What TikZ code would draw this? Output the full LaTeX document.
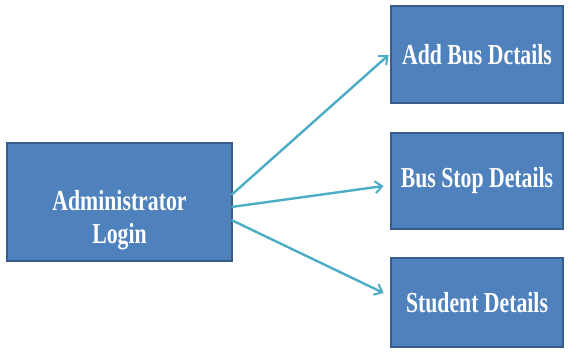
\documentclass[tikz,border=0pt]{standalone}
\usepackage{fontspec}
\newfontfamily\boxfont[FakeStretch=0.75]{Liberation Serif}
\usetikzlibrary{arrows.meta,calc}
\definecolor{boxfill}{HTML}{4F81BD}
\definecolor{boxline}{HTML}{385D8A}
\definecolor{arrowcol}{HTML}{4BACC6}
\tikzset{
  boxtext/.style={text=white, align=center, inner sep=0pt,
    font=\boxfont\bfseries\fontsize{29}{33}\selectfont},
  bluebox/.style={draw=boxline, line width=2.8pt, fill=boxfill, inner sep=0pt, boxtext},
  link/.style={draw=arrowcol, line width=2.4pt, -{Straight Barb[length=7pt,width=12pt,line width=2pt]}}
}
\begin{document}
\begin{tikzpicture}[x=1pt,y=1pt]
\useasboundingbox (0,0) rectangle (568,354);
\node[bluebox, minimum width=225pt, minimum height=118pt] (a) at (119.5,152) {};
\node[boxtext] (at) at ($(a.center)+(0,-18)$) {Administrator\\Login};
\node[bluebox, minimum width=172pt, minimum height=97pt] (b1) at (477,299.5) {Add Bus Dctails};
\node[bluebox, minimum width=172pt, minimum height=96pt] (b2) at (477,173) {Bus Stop Details};
\node[bluebox, minimum width=172pt, minimum height=89pt] (b3) at (477,51.5) {Student Details};
\coordinate (s1) at ($(a.east)+(-2,7)$);
\coordinate (s2) at ($(a.east)+(-2,-5)$);
\coordinate (s3) at ($(a.east)+(-2,-18)$);
\coordinate (e1) at ($(b1.west)+(-1,-0.5)$);
\coordinate (e2) at ($(b2.west)+(-6,-5)$);
\coordinate (e3) at ($(b3.west)+(-6,9.5)$);
\draw[link] (s1) -- (e1);
\draw[link] (s2) -- (e2);
\draw[link] (s3) -- (e3);
\end{tikzpicture}
\end{document}
